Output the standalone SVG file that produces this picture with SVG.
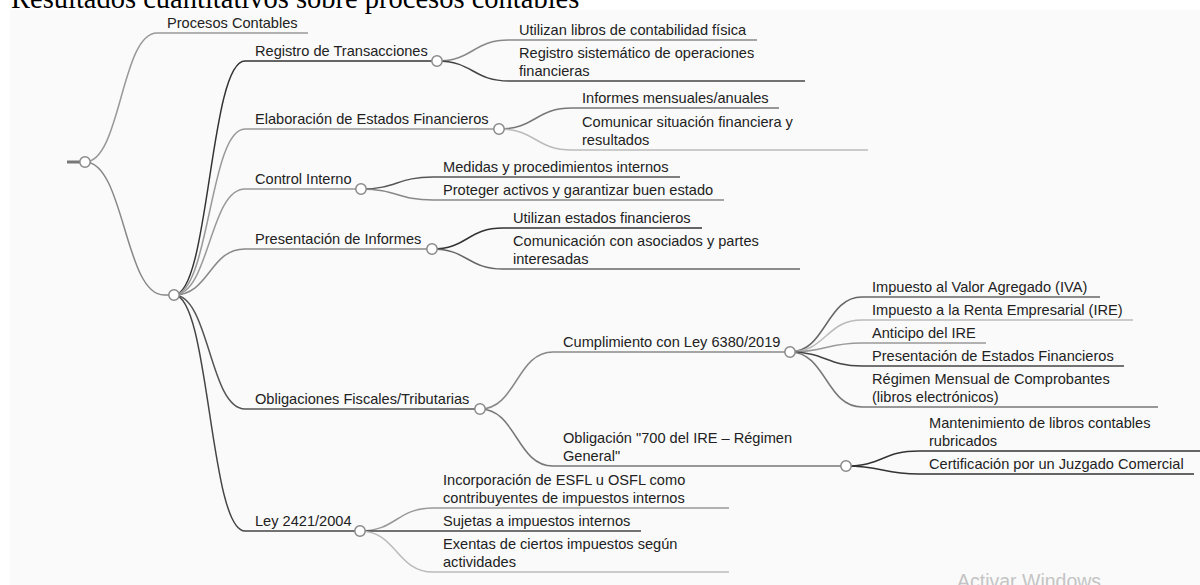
<svg xmlns="http://www.w3.org/2000/svg" width="1200" height="585" viewBox="0 0 1200 585">
<style>
.t{font-family:"Liberation Sans",Arial,sans-serif;font-size:14.6px;fill:#222}
.ttl{font-family:"Liberation Serif","Times New Roman",serif;font-size:28.5px;fill:#000}
.l{fill:none;stroke-width:1.5}
.c{fill:#fff;stroke:#888;stroke-width:1.5}
.wm{font-family:"Liberation Sans",Arial,sans-serif;font-size:19.5px;fill:#c4c4c4}
</style>
<rect x="0" y="0" width="1200" height="585" fill="#ffffff"/>
<rect x="10" y="10" width="1190" height="575" fill="#fafafa"/>
<text class="ttl" x="11" y="8">Resultados cuantitativos sobre procesos contables</text>

<g id="connectors">
<path class="l" stroke="#999" d="M85,162 C121,162 121,33 157,33"/>
<path class="l" stroke="#888" d="M85,162 C124.5,162 124.5,295 164,295 L174,295"/>
<path class="l" stroke="#333" d="M174,295 C209.5,295 209.5,61 245,61"/>
<path class="l" stroke="#999" d="M174,295 C209.5,295 209.5,129 245,129"/>
<path class="l" stroke="#999" d="M174,295 C209.5,295 209.5,189 245,189"/>
<path class="l" stroke="#888" d="M174,295 C209.5,295 209.5,249 245,249"/>
<path class="l" stroke="#555" d="M174,295 C209.5,295 209.5,409 245,409"/>
<path class="l" stroke="#444" d="M174,295 C209.5,295 209.5,531 245,531"/>
<path class="l" stroke="#888" d="M437,61 C473,61 473,40 509,40"/>
<path class="l" stroke="#444" d="M437,61 C473,61 473,81 509,81"/>
<path class="l" stroke="#777" d="M499,129 C535.5,129 535.5,108 572,108"/>
<path class="l" stroke="#bbb" d="M499,129 C535.5,129 535.5,150 572,150"/>
<path class="l" stroke="#555" d="M361,189 C397,189 397,177 433,177"/>
<path class="l" stroke="#888" d="M361,189 C397,189 397,200 433,200"/>
<path class="l" stroke="#333" d="M432,249 C467.5,249 467.5,228 503,228"/>
<path class="l" stroke="#666" d="M432,249 C467.5,249 467.5,269 503,269"/>
<path class="l" stroke="#888" d="M480,409 C516.5,409 516.5,352 553,352"/>
<path class="l" stroke="#777" d="M480,409 C516.5,409 516.5,466 553,466"/>
<path class="l" stroke="#666" d="M790,352 C826,352 826,297 862,297"/>
<path class="l" stroke="#bbb" d="M790,352 C826,352 826,320 862,320"/>
<path class="l" stroke="#999" d="M790,352 C826,352 826,343 862,343"/>
<path class="l" stroke="#444" d="M790,352 C826,352 826,366 862,366"/>
<path class="l" stroke="#777" d="M790,352 C826,352 826,407 862,407"/>
<path class="l" stroke="#333" d="M846,466 C882.5,466 882.5,451 919,451"/>
<path class="l" stroke="#333" d="M846,466 C882.5,466 882.5,474 919,474"/>
<path class="l" stroke="#999" d="M360,531 C396.5,531 396.5,508 433,508"/>
<path class="l" stroke="#444" d="M360,531 C396.5,531 396.5,531 433,531"/>
<path class="l" stroke="#bbb" d="M360,531 C396.5,531 396.5,572 433,572"/>
</g>

<g id="root">
<line x1="67" y1="162" x2="80" y2="162" stroke="#777" stroke-width="3"/>
<circle class="c" cx="85" cy="162" r="5.2"/>
</g>
<g id="procesos-contables">
<line class="l" stroke="#999" x1="157" y1="33" x2="308" y2="33"/>
<text class="t" x="167" y="28">Procesos Contables</text>
</g>
<g id="hub">
<circle class="c" cx="174" cy="295" r="5.2"/>
</g>

<g id="registro">
<line class="l" stroke="#333" x1="245" y1="61" x2="437" y2="61"/>
<text class="t" x="255" y="56">Registro de Transacciones</text>
<circle class="c" cx="437" cy="61" r="5.2"/>
</g>
<g id="registro-1">
<line class="l" stroke="#888" x1="509" y1="40" x2="757" y2="40"/>
<text class="t" x="519" y="35">Utilizan libros de contabilidad física</text>
</g>
<g id="registro-2">
<line class="l" stroke="#444" x1="509" y1="81" x2="805" y2="81"/>
<text class="t" x="519" y="57.5">Registro sistemático de operaciones</text>
<text class="t" x="519" y="76">financieras</text>
</g>

<g id="elaboracion">
<line class="l" stroke="#999" x1="245" y1="129" x2="499" y2="129"/>
<text class="t" x="255" y="124">Elaboración de Estados Financieros</text>
<circle class="c" cx="499" cy="129" r="5.2"/>
</g>
<g id="elaboracion-1">
<line class="l" stroke="#777" x1="572" y1="108" x2="779" y2="108"/>
<text class="t" x="582" y="103">Informes mensuales/anuales</text>
</g>
<g id="elaboracion-2">
<line class="l" stroke="#bbb" x1="572" y1="150" x2="868" y2="150"/>
<text class="t" x="582" y="126.5">Comunicar situación financiera y</text>
<text class="t" x="582" y="145">resultados</text>
</g>

<g id="control">
<line class="l" stroke="#999" x1="245" y1="189" x2="361" y2="189"/>
<text class="t" x="255" y="184">Control Interno</text>
<circle class="c" cx="361" cy="189" r="5.2"/>
</g>
<g id="control-1">
<line class="l" stroke="#555" x1="433" y1="177" x2="680" y2="177"/>
<text class="t" x="443" y="172">Medidas y procedimientos internos</text>
</g>
<g id="control-2">
<line class="l" stroke="#888" x1="433" y1="200" x2="724" y2="200"/>
<text class="t" x="443" y="195">Proteger activos y garantizar buen estado</text>
</g>

<g id="presentacion">
<line class="l" stroke="#888" x1="245" y1="249" x2="432" y2="249"/>
<text class="t" x="255" y="244">Presentación de Informes</text>
<circle class="c" cx="432" cy="249" r="5.2"/>
</g>
<g id="presentacion-1">
<line class="l" stroke="#333" x1="503" y1="228" x2="702" y2="228"/>
<text class="t" x="513" y="223">Utilizan estados financieros</text>
</g>
<g id="presentacion-2">
<line class="l" stroke="#666" x1="503" y1="269" x2="800" y2="269"/>
<text class="t" x="513" y="245.5">Comunicación con asociados y partes</text>
<text class="t" x="513" y="264">interesadas</text>
</g>

<g id="obligaciones">
<line class="l" stroke="#555" x1="245" y1="409" x2="480" y2="409"/>
<text class="t" x="255" y="404">Obligaciones Fiscales/Tributarias</text>
<circle class="c" cx="480" cy="409" r="5.2"/>
</g>
<g id="cumplimiento">
<line class="l" stroke="#888" x1="553" y1="352" x2="790" y2="352"/>
<text class="t" x="563" y="347">Cumplimiento con Ley 6380/2019</text>
<circle class="c" cx="790" cy="352" r="5.2"/>
</g>
<g id="cumplimiento-1">
<line class="l" stroke="#666" x1="862" y1="297" x2="1100" y2="297"/>
<text class="t" x="872" y="292">Impuesto al Valor Agregado (IVA)</text>
</g>
<g id="cumplimiento-2">
<line class="l" stroke="#bbb" x1="862" y1="320" x2="1133" y2="320"/>
<text class="t" x="872" y="315">Impuesto a la Renta Empresarial (IRE)</text>
</g>
<g id="cumplimiento-3">
<line class="l" stroke="#999" x1="862" y1="343" x2="986" y2="343"/>
<text class="t" x="872" y="338">Anticipo del IRE</text>
</g>
<g id="cumplimiento-4">
<line class="l" stroke="#444" x1="862" y1="366" x2="1124" y2="366"/>
<text class="t" x="872" y="361">Presentación de Estados Financieros</text>
</g>
<g id="cumplimiento-5">
<line class="l" stroke="#777" x1="862" y1="407" x2="1158" y2="407"/>
<text class="t" x="872" y="383.5">Régimen Mensual de Comprobantes</text>
<text class="t" x="872" y="402">(libros electrónicos)</text>
</g>
<g id="obligacion-700">
<line class="l" stroke="#777" x1="553" y1="466" x2="846" y2="466"/>
<text class="t" x="563" y="442.5">Obligación &quot;700 del IRE – Régimen</text>
<text class="t" x="563" y="461">General&quot;</text>
<circle class="c" cx="846" cy="466" r="5.2"/>
</g>
<g id="obligacion-700-1">
<line class="l" stroke="#333" x1="919" y1="451" x2="1200" y2="451"/>
<text class="t" x="929" y="427.5">Mantenimiento de libros contables</text>
<text class="t" x="929" y="446">rubricados</text>
</g>
<g id="obligacion-700-2">
<line class="l" stroke="#333" x1="919" y1="474" x2="1194" y2="474"/>
<text class="t" x="929" y="469">Certificación por un Juzgado Comercial</text>
</g>

<g id="ley">
<line class="l" stroke="#444" x1="245" y1="531" x2="360" y2="531"/>
<text class="t" x="255" y="526">Ley 2421/2004</text>
<circle class="c" cx="360" cy="531" r="5.2"/>
</g>
<g id="ley-1">
<line class="l" stroke="#999" x1="433" y1="508" x2="729" y2="508"/>
<text class="t" x="443" y="484.5">Incorporación de ESFL u OSFL como</text>
<text class="t" x="443" y="503">contribuyentes de impuestos internos</text>
</g>
<g id="ley-2">
<line class="l" stroke="#444" x1="433" y1="531" x2="641" y2="531"/>
<text class="t" x="443" y="526">Sujetas a impuestos internos</text>
</g>
<g id="ley-3">
<line class="l" stroke="#bbb" x1="433" y1="572" x2="729" y2="572"/>
<text class="t" x="443" y="548.5">Exentas de ciertos impuestos según</text>
<text class="t" x="443" y="567">actividades</text>
</g>

<text class="wm" x="957" y="588">Activar Windows</text>
</svg>
